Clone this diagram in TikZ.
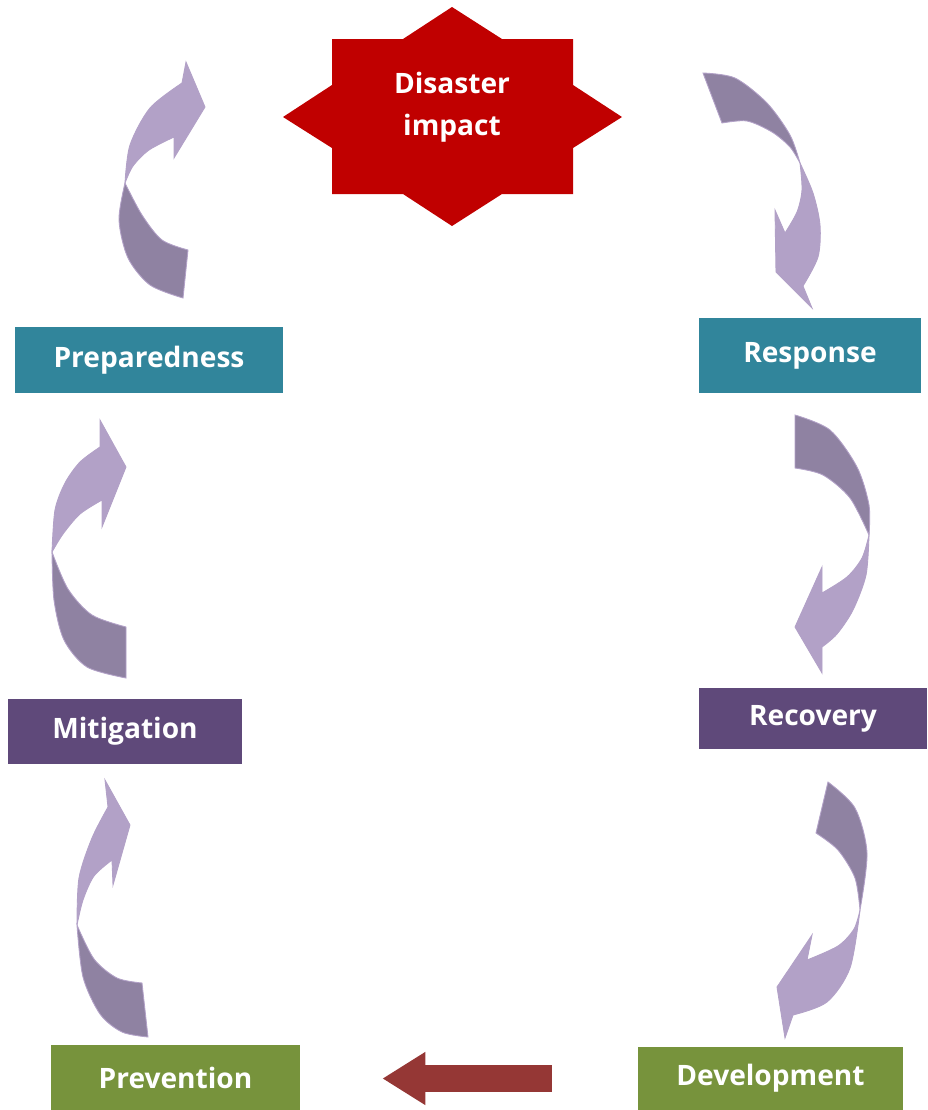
\documentclass[tikz,border=0pt]{standalone}
\usepackage{fontspec}
\newfontfamily\phasefont{Open Sans}
\usetikzlibrary{arrows.meta}
\definecolor{tealbox}{RGB}{49,133,155}
\definecolor{plumbox}{RGB}{95,73,122}
\definecolor{olivebox}{RGB}{119,147,60}
\definecolor{starred}{RGB}{192,0,0}
\definecolor{brickarrow}{RGB}{149,55,53}
\definecolor{lilaclight}{RGB}{178,161,199}
\definecolor{lilacdark}{RGB}{143,130,162}
\tikzset{
    % phase boxes
    phase/.style={
           rectangle,
           inner sep=0pt,
           text=white,
           font=\phasefont\bfseries\fontsize{16}{24}\selectfont},
    % halves of the curved arrows
    backhalf/.style={
           fill=lilacdark,
           draw=lilaclight, line width=0.5pt},
    fronthalf/.style={
           fill=lilaclight,
           draw=lilaclight, line width=0.5pt},
    % straight arrow at the bottom
    flat/.style={
           draw=brickarrow,
           line width=0.54cm,
           shorten <=1.72cm,
           shorten >=1.64cm,
           -{Triangle[width=1cm,length=0.86cm]}},
}
\begin{document}
\begin{tikzpicture}[x=0.02cm,y=-0.02cm]
\useasboundingbox (0,0) rectangle (928,1110);

% Stern oben
\fill[starred] (452,7) -- (502,39) -- (573,39) -- (573,85) -- (622,117)
  -- (573,148) -- (573,194) -- (502,194) -- (452,226) -- (403,194)
  -- (332,194) -- (332,148) -- (283,117) -- (332,85) -- (332,39)
  -- (403,39) -- cycle;
\node[phase, align=center] (impact) at (452,107) {Disaster\\impact};

% Kaesten
\node[phase, fill=tealbox, minimum width=5.36cm, minimum height=1.32cm]
  (prep) at (149,360) {Preparedness};
\node[phase, fill=tealbox, minimum width=4.44cm, minimum height=1.5cm]
  (resp) at (810,355.5) {Response};
\node[phase, fill=plumbox, minimum width=4.68cm, minimum height=1.3cm]
  (miti) at (125,731.5) {Mitigation};
\node[phase, fill=plumbox, minimum width=4.56cm, minimum height=1.22cm]
  (reco) at (813,718.5) {Recovery};
\node[phase, fill=olivebox, minimum width=4.98cm, minimum height=1.3cm]
  (prev) at (175.5,1077.5) {Prevention};
\node[phase, fill=olivebox, minimum width=5.3cm, minimum height=1.26cm]
  (deve) at (770.5,1078.5) {Development};

% Pfeil unten
\draw[flat] (deve.west) -- (prev.east |- deve.west);

% Linke Bogenpfeile
\path[backhalf] (188,250) -- plot[smooth] coordinates {(188,250) (162,240) (142,215) (125,183)}
  -- plot[smooth] coordinates {(125,183) (119,220) (128,258) (150,285) (183,298)} -- cycle;
\path[fronthalf] (125,183) -- plot[smooth] coordinates {(125,183) (130,145) (150,108) (182,83)}
  -- (186,62) -- (205,107) -- (174,158) -- (174,137)
  -- plot[smooth] coordinates {(174,137) (149,150) (133,166) (125,183)} -- cycle;

\path[backhalf] (126,627) -- plot[smooth] coordinates {(126,627) (92,615) (68,589) (52,552)}
  -- plot[smooth] coordinates {(52,552) (54,600) (64,640) (87,667) (126,678)} -- cycle;
\path[fronthalf] (52,552) -- plot[smooth] coordinates {(52,552) (55,510) (65,483) (80,462) (100,447)}
  -- (100,420) -- (126,467) -- (102,527) -- (102,500)
  -- plot[smooth] coordinates {(102,500) (80,514) (63,534) (52,552)} -- cycle;

\path[backhalf] (142,983) -- plot[smooth] coordinates {(142,983) (117,978) (94,959) (77,925)}
  -- plot[smooth] coordinates {(77,925) (83,977) (100,1014) (122,1032) (148,1037)} -- cycle;
\path[fronthalf] (77,925) -- plot[smooth] coordinates {(77,925) (79,878) (92,838) (108,807)}
  -- (105,780) -- (130,825) -- (113,885) -- (112,860)
  -- plot[smooth] coordinates {(112,860) (94,876) (83,900) (77,925)} -- cycle;

% Rechte Bogenpfeile
\path[backhalf] (703,73) -- plot[smooth] coordinates {(703,73) (735,78) (767,103) (790,135) (800,163)}
  -- plot[smooth] coordinates {(800,163) (790,147) (772,132) (747,121) (722,123)} -- cycle;
\path[fronthalf] (800,163) -- plot[smooth] coordinates {(800,163) (813,193) (820,225) (818,257) (803,286)}
  -- (812,308) -- (776,272) -- (775,210) -- (785,233)
  -- plot[smooth] coordinates {(785,233) (797,212) (802,190) (800,163)} -- cycle;

\path[backhalf] (795,415) -- plot[smooth] coordinates {(795,415) (830,430) (857,467) (869,505) (869,535)}
  -- plot[smooth] coordinates {(869,535) (850,498) (823,475) (795,468)} -- cycle;
\path[fronthalf] (869,535) -- plot[smooth] coordinates {(869,535) (866,575) (853,610) (837,634) (822,647)}
  -- (822,673) -- (795,627) -- (822,567) -- (822,593)
  -- plot[smooth] coordinates {(822,593) (847,577) (862,558) (869,535)} -- cycle;

\path[backhalf] (828,782) -- plot[smooth] coordinates {(828,782) (855,808) (867,853) (860,910)}
  -- plot[smooth] coordinates {(860,910) (855,878) (838,850) (816,833)} -- cycle;
\path[fronthalf] (860,910) -- plot[smooth] coordinates {(860,910) (850,968) (827,1002) (793,1015)}
  -- (785,1038) -- (777,987) -- (812,935) -- (807,960)
  -- plot[smooth] coordinates {(807,960) (838,946) (854,929) (860,910)} -- cycle;
\end{tikzpicture}
\end{document}
